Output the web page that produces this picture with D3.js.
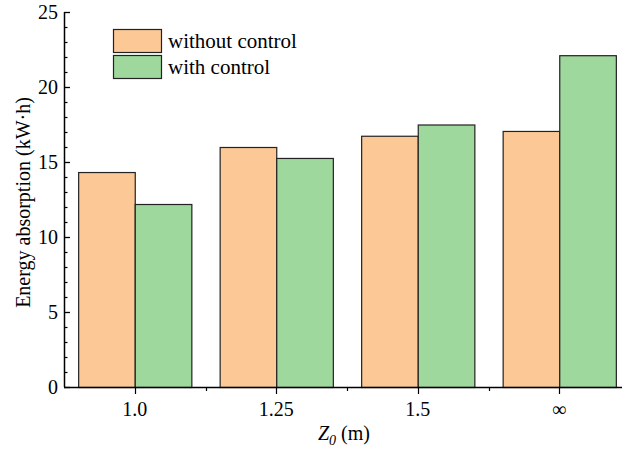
<!DOCTYPE html>
<html>
<head>
<meta charset="utf-8">
<script src="https://cdn.jsdelivr.net/npm/d3@7"></script>
<style>
  body { margin: 0; background: #fff; }
</style>
</head>
<body>
<div id="chart"></div>
<script>
// categories and values
const categories = ["1.0", "1.25", "1.5", "\u221E"];
const seriesNames = ["without control", "with control"];
const withoutControl = [14.33, 16.0, 16.75, 17.07];
const withControl = [12.2, 15.27, 17.5, 22.12];
const yTicks = [0, 5, 10, 15, 20, 25];

const colors = ["#fcc996", "#9ed89c"];
const serif = "'Liberation Serif', 'DejaVu Serif', 'Times New Roman', Times, serif";

const width = 622, height = 453;
const margin = { left: 64, top: 12, bottom: 66 };
const plotRight = 630;  // axis runs past the window edge

const svg = d3.select("#chart").append("svg")
    .attr("width", width)
    .attr("height", height)
    .style("font-family", serif);

const x = d3.scaleBand()
    .domain(categories)
    .range([margin.left, plotRight])
    .paddingInner(0.2)
    .paddingOuter(0.1);

const xInner = d3.scaleBand()
    .domain(seriesNames)
    .range([0, x.bandwidth()]);

const y = d3.scaleLinear()
    .domain([0, 25])
    .range([height - margin.bottom, margin.top]);

const data = categories.map((c, i) => ({ cat: c, values: [withoutControl[i], withControl[i]] }));

// bars
const groups = svg.append("g").selectAll("g")
    .data(data)
    .enter().append("g")
    .attr("transform", d => `translate(${x(d.cat)},0)`);

groups.selectAll("rect")
    .data(d => d.values.map((v, j) => ({ name: seriesNames[j], v: v, j: j })))
    .enter().append("rect")
    .attr("x", d => xInner(d.name) + 0.5)
    .attr("y", d => y(d.v) + 0.5)
    .attr("width", xInner.bandwidth())
    .attr("height", d => y(0) - y(d.v))
    .attr("fill", d => colors[d.j])
    .attr("stroke", "#222")
    .attr("stroke-width", 1.2);

// y axis, ticks inward, minor every 1
const yAxis = svg.append("g").attr("transform", `translate(${margin.left},0)`);
yAxis.append("line")
    .attr("x1", 0.5).attr("x2", 0.5)
    .attr("y1", y(25)).attr("y2", y(0))
    .attr("stroke", "#000").attr("stroke-width", 1.5);
yAxis.selectAll(".minor")
    .data(d3.range(0, 26).filter(v => v % 5 !== 0))
    .enter().append("line")
    .attr("x1", 0).attr("x2", 3.5)
    .attr("y1", d => Math.round(y(d)) + 0.5).attr("y2", d => Math.round(y(d)) + 0.5)
    .attr("stroke", "#000").attr("stroke-width", 1.2);
yAxis.selectAll(".major")
    .data(yTicks)
    .enter().append("line")
    .attr("x1", 0).attr("x2", 6)
    .attr("y1", d => Math.round(y(d)) + 0.5).attr("y2", d => Math.round(y(d)) + 0.5)
    .attr("stroke", "#000").attr("stroke-width", 1.3);
yAxis.selectAll("text")
    .data(yTicks)
    .enter().append("text")
    .attr("x", -6)
    .attr("y", d => y(d))
    .attr("dy", "0.33em")
    .attr("text-anchor", "end")
    .attr("font-size", 20)
    .text(d => d);

// x axis, ticks outward at centres, minor ticks between groups
const xAxisY = y(0);
const xAxis = svg.append("g");
xAxis.append("line")
    .attr("x1", margin.left).attr("x2", plotRight)
    .attr("y1", xAxisY + 0.5).attr("y2", xAxisY + 0.5)
    .attr("stroke", "#000").attr("stroke-width", 1.5);
xAxis.selectAll(".major")
    .data(categories)
    .enter().append("line")
    .attr("x1", d => Math.round(x(d) + x.bandwidth() / 2) + 0.5)
    .attr("x2", d => Math.round(x(d) + x.bandwidth() / 2) + 0.5)
    .attr("y1", xAxisY).attr("y2", xAxisY + 7)
    .attr("stroke", "#000").attr("stroke-width", 1.2);
xAxis.selectAll(".minor")
    .data(categories.slice(1))
    .enter().append("line")
    .attr("x1", d => Math.round(x(d) - x.step() * x.paddingInner() / 2) + 0.5)
    .attr("x2", d => Math.round(x(d) - x.step() * x.paddingInner() / 2) + 0.5)
    .attr("y1", xAxisY).attr("y2", xAxisY + 4)
    .attr("stroke", "#000").attr("stroke-width", 1.2);
xAxis.selectAll("text")
    .data(categories)
    .enter().append("text")
    .attr("x", d => x(d) + x.bandwidth() / 2)
    .attr("y", xAxisY + 29)
    .attr("text-anchor", "middle")
    .attr("font-size", 20)
    .text(d => d);

// axis titles
svg.append("text")
    .attr("transform", `translate(30,${(y(0) + y(25)) / 2 + 3}) rotate(-90)`)
    .attr("text-anchor", "middle")
    .attr("font-size", 20)
    .text("Energy absorption (kW\u00B7h)");

const xt = svg.append("text")
    .attr("x", 344)
    .attr("y", 440)
    .attr("text-anchor", "middle")
    .attr("font-size", 20);
xt.append("tspan").attr("font-style", "italic").text("Z");
xt.append("tspan").attr("font-style", "italic").attr("font-size", 14).attr("dy", 5).text("0");
xt.append("tspan").attr("dy", -5).text(" (m)");

// legend
const legend = svg.append("g").attr("transform", "translate(113,29)");
seriesNames.forEach((n, i) => {
    legend.append("rect")
        .attr("x", 0.5).attr("y", i * 26 + 0.5)
        .attr("width", 48).attr("height", 23)
        .attr("fill", colors[i])
        .attr("stroke", "#222").attr("stroke-width", 1.2);
    legend.append("text")
        .attr("x", 55).attr("y", i * 26 + 12)
        .attr("dy", "0.33em")
        .attr("font-size", 21)
        .text(n);
});
</script>
</body>
</html>
